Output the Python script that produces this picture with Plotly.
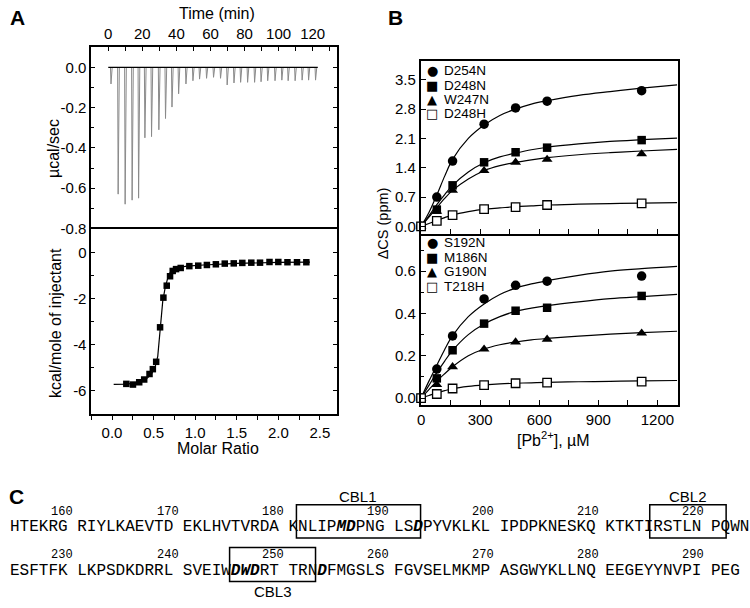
import plotly.graph_objects as go

W, H = 750, 608

# ---------------- Panel A data ----------------
inj_time = [1.3, 5.5, 9.6, 13.7, 17.5, 21.2, 25.1, 29.4, 33.3, 37.1, 41.0, 45.3, 49.4, 53.3,
            57.4, 61.5, 65.6, 69.5, 73.5, 77.4, 81.5, 85.6, 89.4, 93.3, 97.6, 101.6, 105.3,
            109.4, 113.5, 117.3, 121.4]
peak_heat = [-0.082, -0.63, -0.68, -0.66, -0.65, -0.35, -0.344, -0.31, -0.254, -0.197, -0.131,
             -0.082, -0.066, -0.058, -0.054, -0.049, -0.054, -0.087, -0.077, -0.074, -0.074,
             -0.074, -0.071, -0.066, -0.066, -0.063, -0.066, -0.066, -0.063, -0.063, -0.063]
baseline_time = [0, 123]
baseline_heat = [0, 0]

molar_ratio = [0.172, 0.252, 0.327, 0.387, 0.451, 0.491, 0.531, 0.578, 0.618, 0.658, 0.698,
               0.730, 0.770, 0.826, 0.930, 1.037, 1.141, 1.249, 1.356, 1.464, 1.567, 1.675,
               1.780, 1.894, 2.000, 2.110, 2.225, 2.337]
kcal_inj = [-5.70, -5.73, -5.63, -5.51, -5.27, -5.06, -4.74, -3.24, -1.95, -1.43, -1.02,
            -0.79, -0.71, -0.66, -0.58, -0.56, -0.53, -0.50, -0.47, -0.46, -0.44, -0.43,
            -0.43, -0.40, -0.40, -0.41, -0.41, -0.41]
fit_ratio = [0.02, 0.17, 0.30, 0.40, 0.47, 0.52, 0.55, 0.58, 0.61, 0.64, 0.67, 0.70, 0.74,
             0.80, 0.90, 1.10, 1.50, 2.00, 2.38]
fit_kcal = [-5.72, -5.71, -5.66, -5.52, -5.30, -4.95, -4.50, -3.30, -2.10, -1.50, -1.10,
            -0.85, -0.72, -0.64, -0.58, -0.53, -0.46, -0.42, -0.41]

# ---------------- Panel B data ----------------
pb_conc = [0, 80, 160, 320, 480, 640, 1120]
top_names = ["D254N", "D248N", "W247N", "D248H"]
d254n = [0, 0.70, 1.56, 2.44, 2.83, 2.99, 3.24]
d248n = [0, 0.40, 0.98, 1.53, 1.77, 1.88, 2.06]
w247n = [0, 0.36, 0.86, 1.33, 1.53, 1.60, 1.73]
d248h = [0, 0.13, 0.27, 0.41, 0.46, 0.51, 0.55]
bot_names = ["S192N", "M186N", "G190N", "T218H"]
s192n = [0, 0.137, 0.294, 0.469, 0.533, 0.553, 0.577]
m186n = [0, 0.093, 0.226, 0.352, 0.413, 0.427, 0.483]
g190n = [0, 0.063, 0.148, 0.231, 0.265, 0.278, 0.307]
t218h = [0, 0.019, 0.045, 0.061, 0.070, 0.073, 0.078]

fit_pb = [0, 40, 80, 120, 160, 240, 320, 400, 480, 560, 640, 800, 960, 1120, 1300]
fit_d254n = [0, 0.33, 0.75, 1.20, 1.60, 2.10, 2.42, 2.65, 2.80, 2.92, 3.00, 3.13, 3.22, 3.30, 3.38]
fit_d248n = [0, 0.25, 0.52, 0.76, 0.98, 1.30, 1.52, 1.66, 1.75, 1.83, 1.89, 1.97, 2.03, 2.07, 2.11]
fit_w247n = [0, 0.22, 0.45, 0.67, 0.86, 1.13, 1.33, 1.45, 1.53, 1.59, 1.64, 1.71, 1.76, 1.80, 1.84]
fit_d248h = [0, 0.07, 0.14, 0.21, 0.27, 0.35, 0.41, 0.44, 0.47, 0.49, 0.51, 0.53, 0.545, 0.555, 0.565]
fit_s192n = [0, 0.08, 0.155, 0.23, 0.295, 0.385, 0.445, 0.49, 0.52, 0.54, 0.555, 0.58, 0.60, 0.612, 0.623]
fit_m186n = [0, 0.06, 0.12, 0.175, 0.225, 0.30, 0.35, 0.385, 0.41, 0.425, 0.437, 0.455, 0.47, 0.48, 0.49]
fit_g190n = [0, 0.04, 0.08, 0.115, 0.148, 0.20, 0.232, 0.252, 0.265, 0.275, 0.282, 0.293, 0.302, 0.309, 0.316]
fit_t218h = [0, 0.012, 0.024, 0.035, 0.044, 0.055, 0.062, 0.067, 0.070, 0.072, 0.074, 0.077, 0.079, 0.081, 0.083]

# ---------------- Panel C data ----------------
seq_line1 = "HTEKRG RIYLKAEVTD EKLHVTVRDA KNLIPMDPNG LSDPYVKLKL IPDPKNESKQ KTKTIRSTLN PQWN"
seq_line2 = "ESFTFK LKPSDKDRRL SVEIWDWDRT TRNDFMGSLS FGVSELMKMP ASGWYKLLNQ EEGEYYNVPI PEG"
seq_start = [155, 225]
ruler_1 = [160, 170, 180, 190, 200, 210, 220]
ruler_2 = [230, 240, 250, 260, 270, 280, 290]
highlight_res = [186, 187, 193, 246, 247, 248, 254]
cbl_labels = ["CBL1", "CBL2", "CBL3"]
cbl_ranges = [(182, 193), (216, 222), (246, 253)]

FONT = "Liberation Sans, Arial, sans-serif"
MONO = "Liberation Mono, Courier New, monospace"

def px(x):
    return x / W

def py(y):
    return 1 - y / H

fig = go.Figure()

# Panel A top: raw ITC
tx, ty = [], []
for t, d in zip(inj_time, peak_heat):
    tx += [t, t + 0.3, t + 1.0]
    ty += [0, d, 0]
fig.add_trace(go.Scatter(x=tx, y=ty, mode="lines", line=dict(color="#8a8a8a", width=1),
                         xaxis="x", yaxis="y", showlegend=False))
fig.add_trace(go.Scatter(x=baseline_time, y=baseline_heat, mode="lines",
                         line=dict(color="black", width=1.3), xaxis="x", yaxis="y", showlegend=False))

# Panel A bottom: integrated heats
fig.add_trace(go.Scatter(x=fit_ratio, y=fit_kcal, mode="lines", line=dict(color="black", width=1.2),
                         xaxis="x2", yaxis="y2", showlegend=False))
fig.add_trace(go.Scatter(x=molar_ratio, y=kcal_inj, mode="markers",
                         marker=dict(symbol="square", size=6.5, color="black"),
                         xaxis="x2", yaxis="y2", showlegend=False, cliponaxis=False))

# Panel B
top_sets = [(d254n, fit_d254n, "circle"), (d248n, fit_d248n, "square"),
            (w247n, fit_w247n, "triangle-up"), (d248h, fit_d248h, "square-open")]
bot_sets = [(s192n, fit_s192n, "circle"), (m186n, fit_m186n, "square"),
            (g190n, fit_g190n, "triangle-up"), (t218h, fit_t218h, "square-open")]
for sets, xa, ya in [(top_sets, "x4", "y4"), (bot_sets, "x5", "y5")]:
    for vals, fit, sym in sets:
        fig.add_trace(go.Scatter(x=fit_pb, y=fit, mode="lines", line=dict(color="black", width=1.2, shape="spline"),
                                 xaxis=xa, yaxis=ya, showlegend=False, cliponaxis=True))
    for vals, fit, sym in sets:
        size = 9.5 if sym in ("circle", "triangle-up") else 8.5
        mk = dict(symbol=sym, size=size, color="black")
        if sym == "square-open":
            mk = dict(symbol="square", size=8.5, color="white", line=dict(color="black", width=1.3))
        fig.add_trace(go.Scatter(x=pb_conc, y=vals, mode="markers", marker=mk,
                                 xaxis=xa, yaxis=ya, showlegend=False, cliponaxis=False))

axis_common = dict(showline=True, linecolor="black", showgrid=False, zeroline=False,
                   tickcolor="black", tickfont=dict(family=FONT, size=15, color="black"))

itc_dom_x = [px(87.7), px(334.3)]
bdom_x = [px(419), px(677.3)]

fig.update_layout(
    width=W, height=H, margin=dict(l=0, r=0, t=0, b=0),
    paper_bgcolor="white", plot_bgcolor="white",
    xaxis=dict(domain=itc_dom_x, anchor="y", side="top", range=[-10, 134],
               tickvals=[0, 20, 40, 60, 80, 100, 120], ticks="inside", ticklen=4,
               minor=dict(dtick=10, tick0=0, ticks="inside", ticklen=4, tickcolor="black"),
               mirror=False, linewidth=1.5, **axis_common),
    yaxis=dict(domain=[py(232), py(47.7)], anchor="x", range=[-0.805, 0.101],
               tickvals=[0, -0.2, -0.4, -0.6, -0.8], ticktext=["0.0", "-0.2", "-0.4", "-0.6", "-0.8"],
               ticks="inside", ticklen=4, mirror="ticks", linewidth=1.5,
               minor=dict(dtick=0.1, tick0=0, ticks="inside", ticklen=3, tickcolor="black"),
               **axis_common),
    xaxis2=dict(domain=itc_dom_x, anchor="y2", range=[-0.25, 2.7],
                tickvals=[0, 0.5, 1.0, 1.5, 2.0, 2.5], ticktext=["0.0", "0.5", "1.0", "1.5", "2.0", "2.5"],
                ticks="outside", ticklen=4, mirror=True, linewidth=1.5,
                minor=dict(dtick=0.25, tick0=0, ticks="outside", ticklen=4, tickcolor="black"),
                **axis_common),
    xaxis3=dict(domain=itc_dom_x, anchor="y2", overlaying="x2", side="top", range=[-0.25, 2.7],
                dtick=0.25, tick0=0, ticks="inside", ticklen=4, showticklabels=False,
                showline=False, showgrid=False, zeroline=False, tickcolor="black"),
    yaxis2=dict(domain=[py(419.3), py(232)], anchor="x2", range=[-7.03, 1.02],
                tickvals=[0, -2, -4, -6], ticktext=["0", "-2", "-4", "-6"],
                ticks="inside", ticklen=4, mirror="ticks", linewidth=1.5,
                minor=dict(dtick=1, tick0=0, ticks="inside", ticklen=3, tickcolor="black"),
                **axis_common),
    xaxis4=dict(domain=bdom_x, anchor="y4", range=[-1.5, 1303], dtick=300, tick0=0,
                ticks="inside", ticklen=5, showticklabels=False, mirror=True, linewidth=2,
                minor=dict(dtick=150, tick0=0, ticks="inside", ticklen=5, tickcolor="black"),
                **axis_common),
    yaxis4=dict(domain=[py(236.5), py(61.7)], anchor="x4", range=[-0.177, 3.95],
                tickvals=[0, 0.7, 1.4, 2.1, 2.8, 3.5], ticktext=["0.0", "0.7", "1.4", "2.1", "2.8", "3.5"],
                ticks="inside", ticklen=5, mirror=True, linewidth=2, **axis_common),
    xaxis5=dict(domain=bdom_x, anchor="y5", range=[-1.5, 1303], dtick=300, tick0=0,
                ticks="inside", ticklen=5, mirror=False, linewidth=2,
                minor=dict(dtick=150, tick0=0, ticks="inside", ticklen=5, tickcolor="black"),
                **axis_common),
    yaxis5=dict(domain=[py(409.3), py(236.5)], anchor="x5", range=[-0.031, 0.777],
                tickvals=[0, 0.2, 0.4, 0.6], ticktext=["0.0", "0.2", "0.4", "0.6"],
                ticks="inside", ticklen=5, mirror=True, linewidth=2,
                minor=dict(dtick=0.1, tick0=0, ticks="inside", ticklen=3, tickcolor="black"),
                **axis_common),
)

ann = []
def text(x, y, s, size=16, angle=0, xanchor="center", family=FONT, bold=False):
    if bold:
        s = "<b>" + s + "</b>"
    ann.append(dict(x=px(x), y=py(y), xref="paper", yref="paper", text=s, showarrow=False,
                    textangle=angle, xanchor=xanchor, yanchor="middle",
                    font=dict(family=family, size=size, color="black")))

# panel letters
text(14, 18, "A", 21, bold=True)
text(394, 18, "B", 21, bold=True)
text(13, 502, "C", 21, bold=True)
# axis titles
text(214, 14, "Time (min)", 16)
text(50, 150, "µcal/sec", 16, angle=-90)
text(52, 327, "kcal/mole of injectant", 16, angle=-90)
text(215, 454, "Molar Ratio", 16)
text(381, 226, "ΔCS (ppm)", 14.5, angle=-90)
text(552, 444, "[Pb<sup>2+</sup>], µM", 16)

# Panel B legends
symbols = ["●", "■", "▲", "□"]
for names, ys in [(top_names, [71, 86, 100.5, 115]), (bot_names, [245, 260, 275, 290])]:
    for nm, sy, yy in zip(names, symbols, ys):
        text(430.7, yy, sy, 13, family="DejaVu Sans")
        text(440, yy, nm, 13.5, xanchor="left")

# Panel C sequence
CW = 9.6
X0 = 6
def res_index(line, start, res):
    n = start
    for i, ch in enumerate(line):
        if ch == " ":
            continue
        if n == res:
            return i
        n += 1
    return None

def fmt_line(line, start):
    out = ""
    n = start
    for ch in line:
        if ch == " ":
            out += " "
            continue
        if n in highlight_res:
            out += "<b><i>" + ch + "</i></b>"
        else:
            out += ch
        n += 1
    return out

line_y = [533, 577.5]
ruler_y = [518, 561.5]
for line, start, ly, ry, ruler in [(seq_line1, seq_start[0], line_y[0], ruler_y[0], ruler_1),
                                   (seq_line2, seq_start[1], line_y[1], ruler_y[1], ruler_2)]:
    ann.append(dict(x=px(X0 - 2), y=py(ly), xref="paper", yref="paper", text=fmt_line(line, start),
                    showarrow=False, xanchor="left", yanchor="middle",
                    font=dict(family=MONO, size=16, color="black")))
    for r in ruler:
        i = res_index(line, start, r)
        text(X0 + (i + 0.5) * CW, ry, str(r), 12, family=MONO)

shapes = []
box_y = [(510.7, 544.3), (554, 588.3)]
for lab, (r0, r1) in zip(cbl_labels, cbl_ranges):
    li = 0 if r0 < seq_start[1] else 1
    line = [seq_line1, seq_line2][li]
    i0 = res_index(line, seq_start[li], r0)
    i1 = res_index(line, seq_start[li], r1)
    x0 = X0 + i0 * CW
    x1 = X0 + (i1 + 1) * CW
    y0, y1 = box_y[li]
    shapes.append(dict(type="rect", xref="paper", yref="paper", x0=px(x0), x1=px(x1),
                       y0=py(y1), y1=py(y0), line=dict(color="black", width=1.5)))
    ly = 502 if li == 0 else 598
    text((x0 + x1) / 2, ly, lab, 15)

fig.update_layout(annotations=ann, shapes=shapes)
fig.write_html("out.html", config={"displayModeBar": False},
               post_script="document.body.style.margin='0px';")
